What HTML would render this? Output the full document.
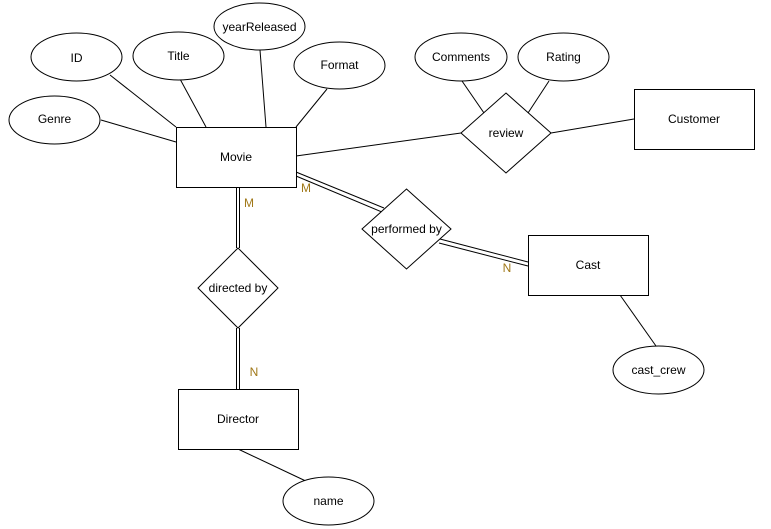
<!DOCTYPE html>
<html><head><meta charset="utf-8"><style>
html,body{margin:0;padding:0;background:#fff;}
svg{display:block;}
text{font-family:"Liberation Sans",Arial,sans-serif;font-size:12px;fill:#000;text-anchor:middle;dominant-baseline:central;}
.l{fill:#a07818;}
</style></head><body>
<svg width="771" height="529" viewBox="0 0 771 529" xmlns="http://www.w3.org/2000/svg">
<g stroke="#000" stroke-width="1" fill="none">
<line x1="110" y1="75" x2="176" y2="127"/>
<line x1="180" y1="79" x2="206" y2="127"/>
<line x1="260" y1="50" x2="266" y2="127"/>
<line x1="327" y1="89" x2="296" y2="127"/>
<line x1="101" y1="120" x2="176" y2="142"/>
<line x1="296" y1="156" x2="461" y2="133"/>
<line x1="551" y1="133" x2="634" y2="119"/>
<line x1="462" y1="81" x2="484" y2="113"/>
<line x1="549" y1="81" x2="528" y2="113"/>
<line x1="620" y1="295" x2="656" y2="346"/>
<line x1="238" y1="449" x2="310" y2="483"/>
<!-- double lines -->
<line x1="296" y1="172" x2="384" y2="208"/>
<line x1="296" y1="176" x2="382" y2="212"/>
<line x1="440" y1="239" x2="528" y2="262"/>
<line x1="439" y1="243" x2="528" y2="266"/>
<line x1="236.5" y1="187" x2="236.5" y2="248"/>
<line x1="239.5" y1="187" x2="239.5" y2="248"/>
<line x1="236.5" y1="328" x2="236.5" y2="389"/>
<line x1="239.5" y1="328" x2="239.5" y2="389"/>
</g>
<g stroke="#000" stroke-width="1" fill="#fff">
<ellipse cx="76.5" cy="57" rx="45.5" ry="24"/>
<ellipse cx="178.5" cy="56" rx="45.5" ry="24"/>
<ellipse cx="259.5" cy="26.5" rx="45.5" ry="23.5"/>
<ellipse cx="339.5" cy="65.5" rx="45.5" ry="23.5"/>
<ellipse cx="54.5" cy="120" rx="45.5" ry="24"/>
<ellipse cx="461" cy="57" rx="46" ry="24"/>
<ellipse cx="563.5" cy="57" rx="45.5" ry="24"/>
<ellipse cx="658.5" cy="370" rx="45.5" ry="24"/>
<ellipse cx="328.5" cy="501" rx="45.5" ry="24"/>
<rect x="176.5" y="127.5" width="120" height="60"/>
<rect x="634.5" y="89.5" width="120" height="60"/>
<rect x="528.5" y="235.5" width="120" height="60"/>
<rect x="178.5" y="389.5" width="120" height="60"/>
<polygon points="506,93 551,133 506,173 461,133"/>
<polygon points="406.5,189 451,229 406.5,269 362,229"/>
<polygon points="238,248 278,288 238,328 198,288"/>
</g>
<text x="76.5" y="58">ID</text>
<text x="178.5" y="56">Title</text>
<text x="259.5" y="27">yearReleased</text>
<text x="339.5" y="65">Format</text>
<text x="54.5" y="119">Genre</text>
<text x="236" y="157">Movie</text>
<text x="461" y="57">Comments</text>
<text x="563.5" y="57">Rating</text>
<text x="506" y="133">review</text>
<text x="694" y="119">Customer</text>
<text x="406.5" y="229">performed by</text>
<text x="588" y="265">Cast</text>
<text x="238" y="288">directed by</text>
<text x="238" y="419">Director</text>
<text x="658.5" y="370">cast_crew</text>
<text x="328.5" y="501">name</text>
<text class="l" x="249" y="203">M</text>
<text class="l" x="306" y="188">M</text>
<text class="l" x="507" y="268">N</text>
<text class="l" x="254" y="372">N</text>
</svg>
</body></html>
